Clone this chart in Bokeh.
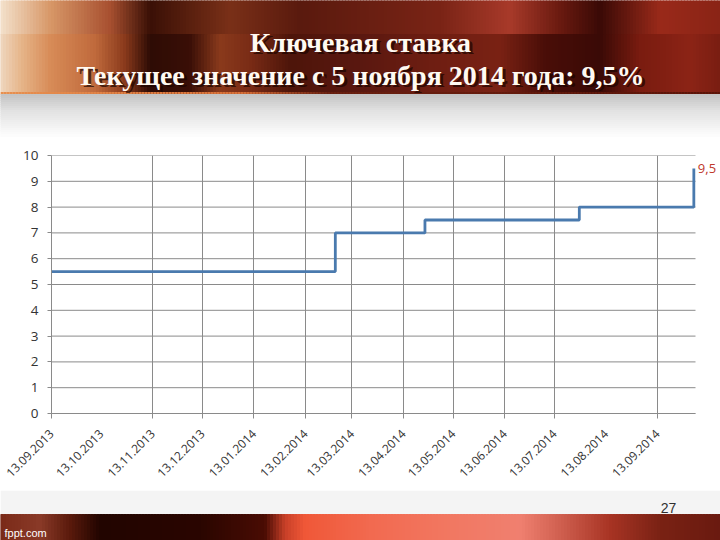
import numpy as np
import pandas as pd
from bokeh.plotting import figure
from bokeh.models import Range1d, FixedTicker, Label, DatetimeTickFormatter
from bokeh.layouts import column
from bokeh.embed import file_html
from bokeh.resources import INLINE

# ---------------- data ----------------
title_line1 = "Ключевая ставка"
title_line2 = "Текущее значение с 5 ноября 2014 года: 9,5%"

change_dates = ["13.09.2013", "03.03.2014", "26.04.2014", "28.07.2014", "05.10.2014"]
rates = [5.5, 7.0, 7.5, 8.0, 9.5]
x_start = "13.09.2013"
x_end = "06.10.2014"

tick_labels = ["13.09.2013", "13.10.2013", "13.11.2013", "13.12.2013", "13.01.2014",
               "13.02.2014", "13.03.2014", "13.04.2014", "13.05.2014", "13.06.2014",
               "13.07.2014", "13.08.2014", "13.09.2014"]
no_grid_labels = ["13.10.2013", "13.08.2014"]
y_ticks = [0, 1, 2, 3, 4, 5, 6, 7, 8, 9, 10]
last_label = "9,5"
page_number = "27"
footer_text = "fppt.com"


def to_ms(s):
    return float(pd.to_datetime(s, format="%d.%m.%Y").value // 10**6)


date_ms = [to_ms(d) for d in change_dates]
tick_ms = [to_ms(t) for t in tick_labels]
grid_ms = [to_ms(t) for t in tick_labels if t not in no_grid_labels]
x0_ms, x1_ms = to_ms(x_start), to_ms(x_end)

# ---------------- decoration helpers ----------------
def hex2rgb(h):
    h = h.lstrip("#")
    return np.array([int(h[i:i + 2], 16) for i in (0, 2, 4)], dtype=float)


def interp_colors(stops, xs):
    sx = np.array([s[0] for s in stops], dtype=float)
    sc = np.array([hex2rgb(s[1]) for s in stops])
    out = []
    for x in xs:
        r = np.interp(x, sx, sc[:, 0])
        g = np.interp(x, sx, sc[:, 1])
        b = np.interp(x, sx, sc[:, 2])
        out.append("#%02x%02x%02x" % (int(r), int(g), int(b)))
    return out


def no_align(fig):
    if "frame_align" in fig.properties():
        fig.frame_align = False


def bare(fig):
    fig.grid.visible = False
    fig.outline_line_color = None
    fig.background_fill_color = "white"
    fig.border_fill_color = "white"
    no_align(fig)


GRAY = "#8a8a8a"
TXT = "#333333"
W = 720
STEP = 3.0
xs = np.arange(0, W, STEP) + STEP / 2

# ---------------- header ----------------
h = figure(width=W, height=140, x_range=Range1d(0, W), y_range=Range1d(140, 0),
           toolbar_location=None, output_backend="svg", min_border=0,
           x_axis_location=None, y_axis_location=None)
bare(h)

head_stops = [(0, "#f0d8c0"), (22, "#e6b488"), (50, "#d88c58"), (95, "#c06a3c"),
              (125, "#8a3a1c"), (150, "#2e0c05"), (190, "#3a0f07"), (220, "#8a3a1c"),
              (250, "#7a2c16"), (290, "#4e150a"), (360, "#5a1810"), (430, "#6e1e12"),
              (500, "#7a2214"), (545, "#4a0e08"), (600, "#3a0a06"), (640, "#7a1c10"),
              (690, "#8c2416"), (720, "#7a1e12")]
top_stops = [(0, "#f4e2cc"), (50, "#d89868"), (110, "#a85030"), (150, "#3a1006"),
             (230, "#7a3018"), (300, "#5a1a0e"), (440, "#7a2416"), (510, "#a83a2a"),
             (560, "#6a1a10"), (600, "#3a0a06"), (660, "#9a2a1a"), (720, "#8a2416")]
ct = interp_colors(top_stops, xs)
cm = interp_colors(head_stops, xs)
h.quad(left=xs - STEP / 2, right=xs + STEP / 2, top=np.full(len(xs), 0.0), bottom=np.full(len(xs), 34.0),
       fill_color=ct, line_color=ct, line_width=1)
h.quad(left=xs - STEP / 2, right=xs + STEP / 2, top=np.full(len(xs), 34.0), bottom=np.full(len(xs), 94.0),
       fill_color=cm, line_color=cm, line_width=1)
line_stops = [(0, "#e89050"), (240, "#d87038"), (330, "#6a2010"), (720, "#5a1408")]
cl = interp_colors(line_stops, xs)
h.quad(left=xs - STEP / 2, right=xs + STEP / 2, top=np.full(len(xs), 91.5), bottom=np.full(len(xs), 94.0),
       fill_color=cl, line_color=None)
# shadow under header
ys = np.arange(94, 136, 2.0)
shade = interp_colors([(94, "#c4c4c4"), (110, "#e2e2e2"), (136, "#ffffff")], ys)
h.quad(left=np.full(len(ys), 0.0), right=np.full(len(ys), float(W)), top=ys, bottom=ys + 2,
       fill_color=shade, line_color=shade, line_width=1)

for txt, yy in [(title_line1, 42), (title_line2, 75)]:
    h.add_layout(Label(x=361.5, y=yy, text=txt, text_align="center", text_baseline="middle",
                       text_font="Liberation Serif", text_font_style="bold", text_font_size="28px",
                       text_color="#1a0400", text_alpha=0.7, x_offset=1.5, y_offset=-1.5))
    h.add_layout(Label(x=360, y=yy, text=txt, text_align="center", text_baseline="middle",
                       text_font="Liberation Serif", text_font_style="bold", text_font_size="28px",
                       text_color="#fffaf2"))

# ---------------- chart ----------------
# frame spans x 51..720; the data area (gridlines, axis) ends at x 695
FL, FR_DATA = 51, 695
x_range_end = x0_ms + (x1_ms - x0_ms) * (W - FL) / (FR_DATA - FL)
p = figure(width=W, height=350, x_axis_type="datetime",
           x_range=Range1d(x0_ms, x_range_end), y_range=Range1d(0, 10),
           toolbar_location=None, output_backend="svg",
           min_border_left=FL, min_border_right=0, min_border_top=15, min_border_bottom=77)
p.outline_line_color = None
p.background_fill_color = "white"
p.border_fill_color = "white"
no_align(p)

p.xaxis.ticker = FixedTicker(ticks=tick_ms, minor_ticks=grid_ms)
p.xaxis.formatter = DatetimeTickFormatter(days="%d.%m.%Y", months="%d.%m.%Y", years="%d.%m.%Y")
p.xaxis.major_label_overrides = {t: lab for t, lab in zip(tick_ms, tick_labels)}
p.xaxis.major_label_orientation = np.pi / 4
p.xaxis.bounds = (x0_ms, x1_ms)
p.xaxis.major_tick_out = 0
p.xaxis.major_tick_in = 0
p.xaxis.minor_tick_out = 5
p.xaxis.minor_tick_in = 0
p.xaxis.minor_tick_line_color = GRAY
p.xaxis.major_label_standoff = 13
p.xaxis.major_label_text_font = "Open Sans"
p.xaxis.major_label_text_font_size = "12px"
p.xaxis.major_label_text_color = TXT
p.xaxis.axis_line_color = GRAY

p.yaxis.ticker = FixedTicker(ticks=y_ticks)
p.yaxis.major_tick_out = 4
p.yaxis.major_tick_in = 0
p.yaxis.minor_tick_line_color = None
p.yaxis.major_tick_line_color = GRAY
p.yaxis.axis_line_color = GRAY
p.yaxis.major_label_standoff = 9
p.yaxis.major_label_text_font = "Open Sans"
p.yaxis.major_label_text_font_size = "13.5px"
p.yaxis.major_label_text_color = TXT

p.xgrid.ticker = FixedTicker(ticks=grid_ms)
p.xgrid.grid_line_color = GRAY
p.ygrid.visible = False
# horizontal gridlines limited to the data area
p.segment(x0=[x0_ms] * len(y_ticks), x1=[x1_ms] * len(y_ticks), y0=y_ticks, y1=y_ticks,
          line_color=GRAY, line_width=1)

p.step(x=date_ms, y=rates, mode="after", line_color="#4a7aae", line_width=2.8)
p.add_layout(Label(x=date_ms[-1], y=rates[-1], text=last_label, x_offset=4,
                   text_baseline="middle", text_font="Open Sans", text_font_size="13px",
                   text_color="#c0392b"))

# ---------------- footer ----------------
f = figure(width=W, height=50, x_range=Range1d(0, W), y_range=Range1d(540, 490),
           toolbar_location=None, output_backend="svg", min_border=0,
           x_axis_location=None, y_axis_location=None)
bare(f)
f.quad(left=[0], right=[W], top=[490], bottom=[514], fill_color="#f4f4f4", line_color=None)
foot_stops = [(0, "#7a2a18"), (40, "#8a3a28"), (70, "#5a1a0c"), (100, "#220500"),
              (200, "#2a0600"), (265, "#4a0c04"), (285, "#c84028"), (305, "#f05838"),
              (370, "#f26a50"), (450, "#f27862"), (520, "#f08070"), (560, "#d06050"),
              (610, "#a83424"), (660, "#7a2214"), (720, "#6a1a10")]
cf = interp_colors(foot_stops, xs)
f.quad(left=xs - STEP / 2, right=xs + STEP / 2, top=np.full(len(xs), 514.0), bottom=np.full(len(xs), 540.0),
       fill_color=cf, line_color=cf, line_width=1)
f.add_layout(Label(x=668, y=507, text=page_number, text_align="center", text_baseline="middle",
                   text_font="Liberation Sans", text_font_size="14px", text_color="#303030"))
f.add_layout(Label(x=4, y=532, text=footer_text, text_align="left", text_baseline="middle",
                   text_font="Liberation Sans", text_font_size="11px", text_color="#ffffff"))

layout = column(h, p, f, spacing=0)
open("out.html", "w").write(file_html(layout, INLINE))
